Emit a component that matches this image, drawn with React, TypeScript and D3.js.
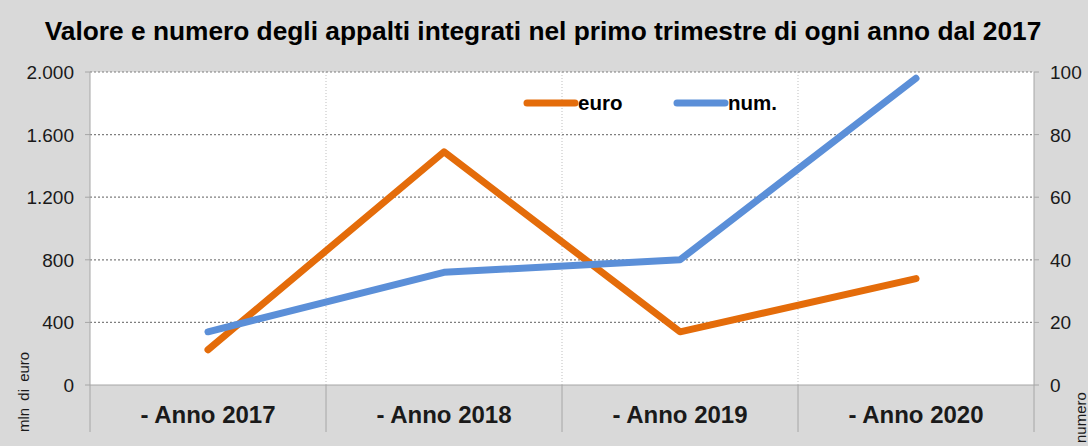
import React from "react";
import * as d3 from "d3";

const categories = ["- Anno 2017", "- Anno 2018", "- Anno 2019", "- Anno 2020"];
const euroValues = [225, 1490, 340, 680];
const numValues = [17, 36, 40, 98];
const leftTicks = [0, 400, 800, 1200, 1600, 2000];
const rightTicks = [0, 20, 40, 60, 80, 100];
const title = "Valore e numero degli appalti integrati nel primo trimestre di ogni anno dal 2017";

const W = 1088, H = 446;
const L = 90, R = 1034, T = 72, B = 385;
const ORANGE = "#e46c0a";
const BLUE = "#5b8fd8";
const FONT = "'Liberation Sans', Arial, sans-serif";

const fmt = (v: number) => d3.format(",")(v).replace(/,/g, ".");

export default function App() {
  const x = d3.scaleBand<string>().domain(categories).range([L, R]);
  const yL = d3.scaleLinear().domain([0, 2000]).range([B, T]);
  const yR = d3.scaleLinear().domain([0, 100]).range([B, T]);
  const cx = (c: string) => (x(c) as number) + x.bandwidth() / 2;
  const lineE = d3.line<number>().x((_, i) => cx(categories[i])).y((d) => yL(d));
  const lineN = d3.line<number>().x((_, i) => cx(categories[i])).y((d) => yR(d));
  const bounds = [...categories.map((c) => x(c) as number), R];

  return (
    <svg width={W} height={H} style={{ position: "absolute", left: 0, top: 0 }} fontFamily={FONT}>
      <rect x={0} y={0} width={W} height={H} fill="#d9d9d9" />
      <rect x={L} y={T} width={R - L} height={B - T} fill="#ffffff" />
      <text x={543} y={40} textAnchor="middle" fontSize={26.3} fontWeight="bold" fill="#000">{title}</text>
      {/* vertical grid */}
      {bounds.slice(1, -1).map((b, i) => (
        <line key={"vg" + i} x1={b} x2={b} y1={T} y2={B} stroke="#bfbfbf" strokeDasharray="1,2" />
      ))}
      {/* horizontal grid */}
      {leftTicks.slice(1).map((t) => (
        <line key={"hg" + t} x1={L} x2={R} y1={yL(t)} y2={yL(t)} stroke="#7f7f7f" strokeDasharray="2,2" strokeWidth={1.2} />
      ))}
      {/* axes */}
      <line x1={L} x2={L} y1={T} y2={432} stroke="#a6a6a6" />
      <line x1={R} x2={R} y1={T} y2={432} stroke="#a6a6a6" />
      <line x1={L} x2={R} y1={B} y2={B} stroke="#a6a6a6" />
      {bounds.slice(1, -1).map((b, i) => (
        <line key={"cs" + i} x1={b} x2={b} y1={B} y2={432} stroke="#a6a6a6" />
      ))}
      {leftTicks.map((t) => (
        <g key={"lt" + t}>
          <line x1={L - 5} x2={L} y1={yL(t)} y2={yL(t)} stroke="#a6a6a6" />
          <text x={74} y={yL(t) + 7} textAnchor="end" fontSize={19} fill="#1a1a1a">{fmt(t)}</text>
        </g>
      ))}
      {rightTicks.map((t) => (
        <g key={"rt" + t}>
          <line x1={R} x2={R + 5} y1={yR(t)} y2={yR(t)} stroke="#a6a6a6" />
          <text x={1050} y={yR(t) + 7} textAnchor="start" fontSize={19} fill="#1a1a1a">{t}</text>
        </g>
      ))}
      {categories.map((c) => (
        <text key={c} x={cx(c)} y={423} textAnchor="middle" fontSize={24} fontWeight="bold" fill="#1a1a1a">{c}</text>
      ))}
      <text transform="translate(29,432) rotate(-90)" fontSize={15} wordSpacing={3} fill="#1a1a1a">mln di euro</text>
      <text transform="translate(1086,443) rotate(-90)" fontSize={15} fill="#1a1a1a">numero</text>
      {/* series */}
      <path d={lineE(euroValues) || ""} fill="none" stroke={ORANGE} strokeWidth={7} strokeLinejoin="round" strokeLinecap="round" />
      <path d={lineN(numValues) || ""} fill="none" stroke={BLUE} strokeWidth={7} strokeLinejoin="round" strokeLinecap="round" />
      {/* legend */}
      <line x1={527} x2={575} y1={103} y2={103} stroke={ORANGE} strokeWidth={7} strokeLinecap="round" />
      <text x={578} y={110} fontSize={20.5} fontWeight="bold" fill="#000">euro</text>
      <line x1={677} x2={725} y1={103} y2={103} stroke={BLUE} strokeWidth={7} strokeLinecap="round" />
      <text x={728} y={110} fontSize={20.5} fontWeight="bold" fill="#000">num.</text>
    </svg>
  );
}
